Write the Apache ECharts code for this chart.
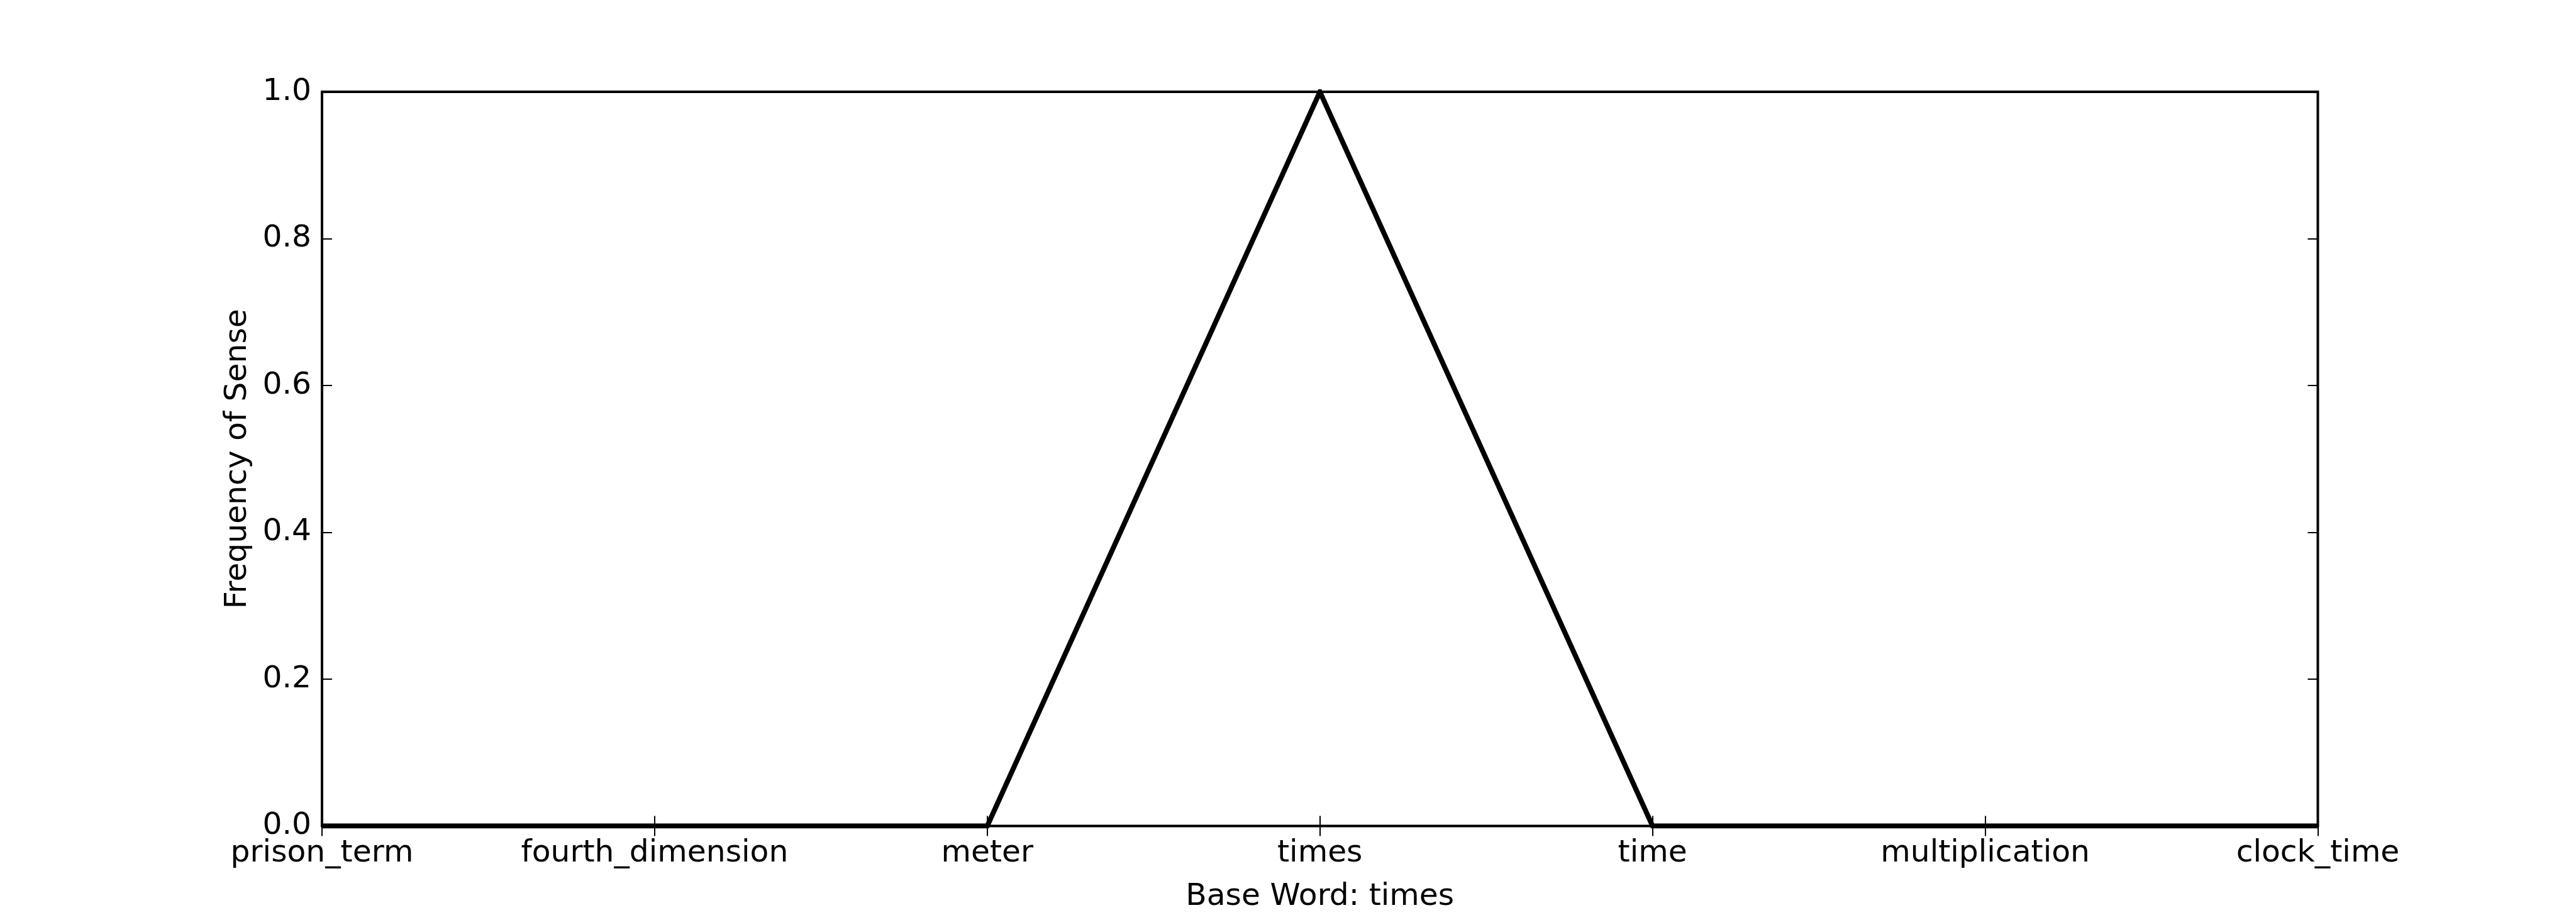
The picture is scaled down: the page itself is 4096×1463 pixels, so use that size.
<!DOCTYPE html>
<html>
<head>
<meta charset="utf-8">
<script src="https://cdn.jsdelivr.net/npm/echarts@6/dist/echarts.min.js"></script>
<style>html,body{margin:0;padding:0;background:#fff;}#c{width:4096px;height:1463px;}</style>
</head>
<body>
<div id="c"></div>
<script>
const categories = ['prison_term', 'fourth_dimension', 'meter', 'times', 'time', 'multiplication', 'clock_time'];
const frequency = [0, 0, 0, 1, 0, 0, 0];
const yTicks = [0, 0.2, 0.4, 0.6, 0.8, 1.0];
const xTitle = 'Base Word: times';
const yTitle = 'Frequency of Sense';

const FONT = 'DejaVu Sans';
const FS = 48.75;
const chart = echarts.init(document.getElementById('c'), null, {renderer: 'canvas'});
const tickStyle = {show: true, inside: true, length: 16, lineStyle: {color: '#000', width: 2}};
chart.setOption({
  animation: false,
  backgroundColor: '#fff',
  grid: {left: 512, right: 410.5, top: 146, bottom: 1463 - 1313.5, containLabel: false,
         show: true, borderColor: '#000', borderWidth: 4, backgroundColor: 'transparent'},
  xAxis: [{
    type: 'category', data: categories, boundaryGap: false, position: 'bottom',
    axisLine: {show: false},
    axisTick: Object.assign({alignWithLabel: true}, tickStyle),
    axisLabel: {color: '#000', fontFamily: FONT, fontSize: FS, margin: 19, interval: 0},
    splitLine: {show: false},
    name: xTitle, nameLocation: 'middle', nameGap: 88,
    nameTextStyle: {color: '#000', fontFamily: FONT, fontSize: FS, verticalAlign: 'top'}
  }, {
    type: 'category', data: categories, boundaryGap: false, position: 'top',
    axisLine: {show: false}, axisTick: tickStyle, axisLabel: {show: false}, splitLine: {show: false}
  }],
  yAxis: [{
    type: 'value', min: 0, max: 1, interval: 0.2, position: 'left',
    axisLine: {show: false}, axisTick: tickStyle,
    axisLabel: {color: '#000', fontFamily: FONT, fontSize: FS, margin: 17,
                formatter: v => v.toFixed(1)},
    splitLine: {show: false},
    name: yTitle, nameLocation: 'middle', nameGap: 109, nameRotate: 90,
    nameTextStyle: {color: '#000', fontFamily: FONT, fontSize: FS, verticalAlign: 'bottom'}
  }, {
    type: 'value', min: 0, max: 1, interval: 0.2, position: 'right',
    axisLine: {show: false}, axisTick: tickStyle, axisLabel: {show: false}, splitLine: {show: false}
  }],
  series: [{
    type: 'line', data: frequency, xAxisIndex: 0, yAxisIndex: 0,
    showSymbol: false, symbol: 'none', clip: true,
    lineStyle: {color: '#000', width: 8, join: 'miter'}
  }]
});
</script>
</body>
</html>
